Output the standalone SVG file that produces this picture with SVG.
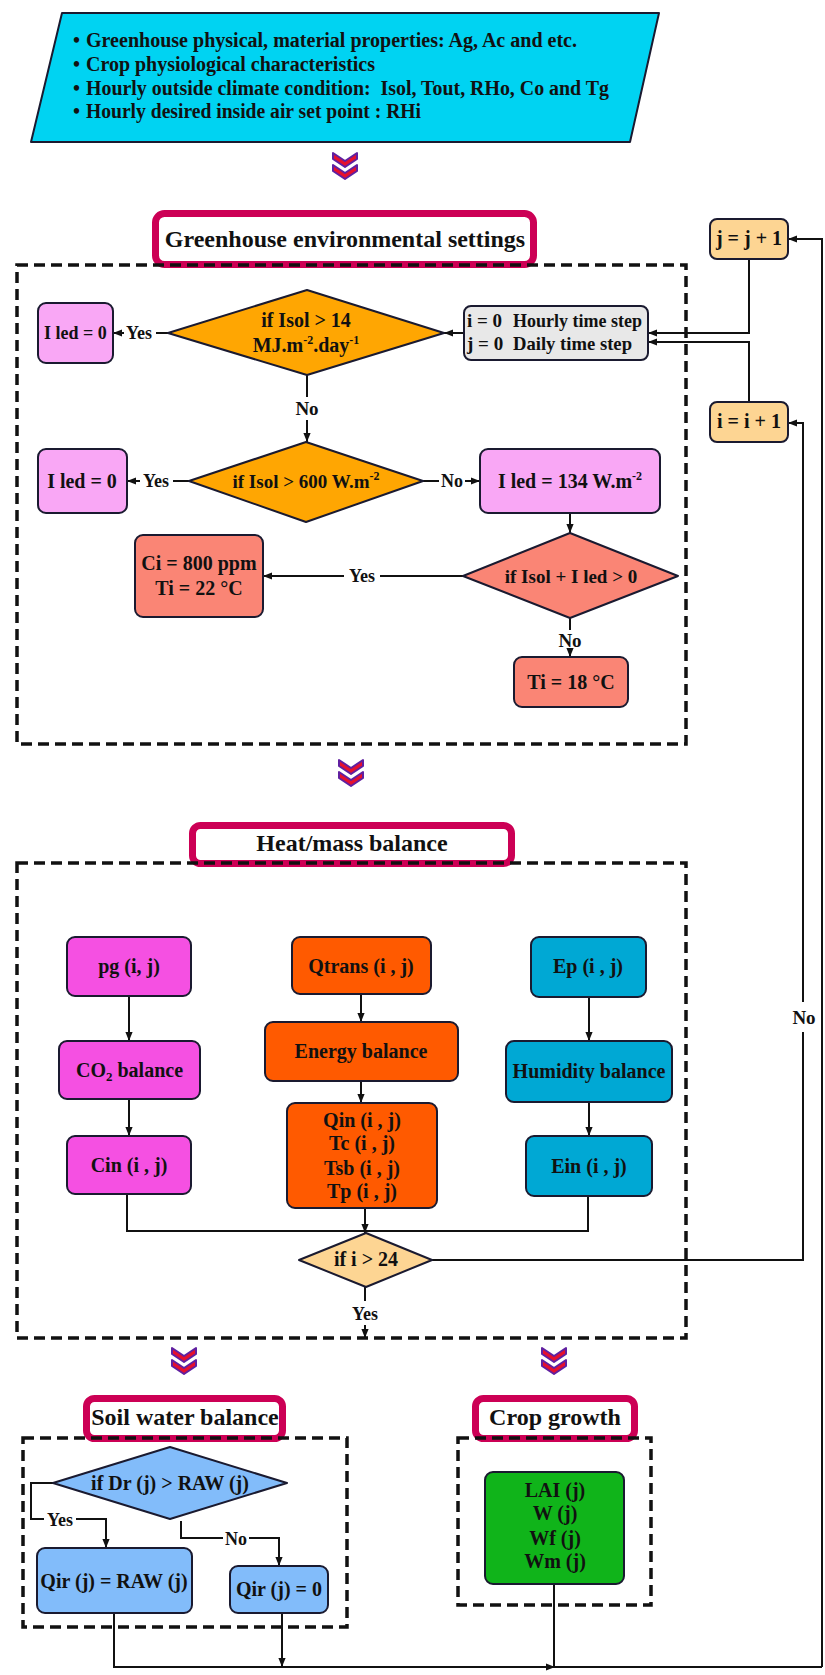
<svg xmlns="http://www.w3.org/2000/svg" xmlns:xlink="http://www.w3.org/1999/xlink" width="825" height="1675" viewBox="0 0 825 1675">
<style>
text{font-family:"Liberation Serif","Times New Roman",serif;font-weight:bold;fill:#111;}
.c{text-anchor:middle;}
.t20{font-size:20px;}
.t19{font-size:19px;}
.t18{font-size:18px;}
.title{font-size:24px;text-anchor:middle;}
.nd{stroke:#1a1a30;stroke-width:2;stroke-linejoin:round;}
.cyan{fill:#00d3f2;}
.orange{fill:#ffa602;}
.pink{fill:#f9a7f5;}
.salmon{fill:#fa8575;}
.grey{fill:#e8e8e8;}
.lo{fill:#fdd593;}
.mag{fill:#f550e2;}
.ored{fill:#ff5a00;}
.teal{fill:#00a8d4;}
.lb{fill:#82bcfa;}
.green{fill:#10b41a;}
.tbox{fill:#fff;stroke:#cc0055;stroke-width:7;}
.dash{fill:none;stroke:#111;stroke-width:3.5;stroke-dasharray:11 6;}
.ln{fill:none;stroke:#111;stroke-width:2;}
.ar{marker-end:url(#ah);}
.chev{fill:#e5102e;stroke:#6020a0;stroke-width:2;stroke-linejoin:round;}
</style>
<defs>
<marker id="ah" viewBox="0 0 10 10" refX="10" refY="5" markerWidth="9" markerHeight="9" orient="auto" markerUnits="userSpaceOnUse">
<path d="M0,1 L10,5 L0,9 z" fill="#111"/>
</marker>
<g id="chev">
<path class="chev" d="M-12,0 L0,8 L12,0 L12,6 L0,14 L-12,6 Z"/>
<path class="chev" d="M-12,12 L0,20 L12,12 L12,18 L0,26 L-12,18 Z"/>
</g>
</defs>
<rect width="825" height="1675" fill="#fff"/>

<g id="chevrons">
<use xlink:href="#chev" x="345" y="153"/>
<use xlink:href="#chev" x="351" y="760"/>
<use xlink:href="#chev" x="184" y="1348"/>
<use xlink:href="#chev" x="554" y="1348"/>
</g>

<g id="frames">
<g id="title-env"><rect class="tbox" x="155.5" y="213.5" width="378" height="51" rx="9"/><text class="title" x="345" y="247">Greenhouse environmental settings</text></g>
<g id="title-heat"><rect class="tbox" x="192.5" y="825.5" width="319" height="38" rx="8"/><text class="title" x="352" y="851">Heat/mass balance</text></g>
<g id="title-soil"><rect class="tbox" x="86.5" y="1398.5" width="196" height="40" rx="8"/><text class="title" x="185" y="1425" font-size="23">Soil water balance</text></g>
<g id="title-crop"><rect class="tbox" x="475.5" y="1398.5" width="159" height="40" rx="8"/><text class="title" x="555" y="1425" font-size="23">Crop growth</text></g>
<rect class="dash" x="17" y="265" width="669" height="479"/>
<rect class="dash" x="17" y="863" width="669" height="475"/>
<rect class="dash" x="23" y="1438" width="324" height="189"/>
<rect class="dash" x="458" y="1438" width="193" height="167"/>
</g>

<g id="connectors">
<path class="ln" d="M168,333 H156"/><text class="t18 c" x="139" y="339">Yes</text><path class="ln ar" d="M124,333 H113"/>
<path class="ln ar" d="M464,333 H444"/>
<path class="ln" d="M307,375 V397"/><text class="t19 c" x="307" y="415">No</text><path class="ln ar" d="M307,420 V442"/>
<path class="ln" d="M189,481 H173"/><text class="t18 c" x="156" y="487">Yes</text><path class="ln ar" d="M140,481 H127"/>
<path class="ln" d="M423,481 H439"/><text class="t18 c" x="452" y="487">No</text><path class="ln ar" d="M465,481 H480"/>
<path class="ln ar" d="M570,513 V533"/>
<path class="ln" d="M463,576 H380"/><text class="t18 c" x="362" y="582">Yes</text><path class="ln ar" d="M344,576 H263"/>
<path class="ln" d="M570,618 V630"/><text class="t19 c" x="570" y="647">No</text><path class="ln ar" d="M570,650 V657"/>
<path class="ln ar" d="M749,259 V333 H648"/>
<path class="ln ar" d="M749,402 V342 H648"/>
<path class="ln ar" d="M822,1667 V239 H788"/>
<path class="ln ar" d="M432,1260 H803 V423 H788"/>
<rect x="794" y="1002" width="20" height="30" fill="#fff"/><text class="t19 c" x="804" y="1024">No</text>
<path class="ln ar" d="M129,996 V1041"/>
<path class="ln ar" d="M129,1099 V1136"/>
<path class="ln ar" d="M361,994 V1022"/>
<path class="ln ar" d="M361,1081 V1103"/>
<path class="ln ar" d="M589,997 V1041"/>
<path class="ln ar" d="M589,1102 V1136"/>
<path class="ln" d="M127,1194 V1231 H588 V1196"/>
<path class="ln ar" d="M365,1208 V1233"/>
<path class="ln" d="M365,1287 V1301"/><text class="t18 c" x="365" y="1320">Yes</text><path class="ln ar" d="M365,1325 V1338"/>
<path class="ln" d="M53,1483 H31 V1519 H44"/><text class="t18 c" x="60" y="1526">Yes</text><path class="ln ar" d="M76,1519 H106 V1548"/>
<path class="ln" d="M181,1521 V1538 H223"/><text class="t18 c" x="236" y="1545">No</text><path class="ln ar" d="M249,1538 H279 V1566"/>
<path class="ln ar" d="M114,1613 V1667 H555"/>
<path class="ln" d="M555,1667 H822"/>
<path class="ln ar" d="M282,1613 V1667"/>
<path class="ln" d="M554,1584 V1667"/>
</g>

<g id="n-input">
<polygon class="nd cyan" points="62,13 659,13 630,142 31,142"/>
<text class="t20" x="73" y="47">• <tspan x="86" textLength="491" lengthAdjust="spacingAndGlyphs">Greenhouse physical, material properties: Ag, Ac and etc.</tspan></text>
<text class="t20" x="73" y="71">• <tspan x="86" textLength="289" lengthAdjust="spacingAndGlyphs">Crop physiological characteristics</tspan></text>
<text class="t20" x="73" y="95" xml:space="preserve">• <tspan x="86" textLength="523" lengthAdjust="spacingAndGlyphs">Hourly outside climate condition:  Isol, Tout, RHo, Co and Tg</tspan></text>
<text class="t20" x="73" y="118">• <tspan x="86" textLength="335" lengthAdjust="spacingAndGlyphs">Hourly desired inside air set point : RHi</tspan></text>
</g>

<g id="n-led0a"><rect class="nd pink" x="38" y="303" width="75" height="60" rx="8"/><text class="t18 c" x="75.5" y="339">I led = 0</text></g>
<g id="n-d1"><polygon class="nd orange" points="168,333 307,290 444,333 307,375"/><text class="t20 c" x="306" y="327">if Isol &gt; 14</text><text class="t20 c" x="306" y="352">MJ.m<tspan dy="-8" font-size="12">-2</tspan><tspan dy="8">.day</tspan><tspan dy="-8" font-size="12">-1</tspan></text></g>
<g id="n-init"><rect class="nd grey" x="464" y="306" width="184" height="54" rx="7"/><text class="t19" x="467" y="327">i = 0</text><text class="t19" x="513" y="327" textLength="129" lengthAdjust="spacingAndGlyphs">Hourly time step</text><text class="t19" x="467" y="350">j = 0</text><text class="t19" x="513" y="350" textLength="119" lengthAdjust="spacingAndGlyphs">Daily time step</text></g>
<g id="n-jinc"><rect class="nd lo" x="710" y="219" width="78" height="40" rx="7"/><text class="t20 c" x="749" y="245">j = j + 1</text></g>
<g id="n-iinc"><rect class="nd lo" x="710" y="402" width="78" height="40" rx="7"/><text class="t20 c" x="749" y="428">i = i + 1</text></g>
<g id="n-d2"><polygon class="nd orange" points="189,481 306,442 423,481 306,522"/><text class="t19 c" x="306" y="488">if Isol &gt; 600 W.m<tspan dy="-8" font-size="12">-2</tspan></text></g>
<g id="n-led0b"><rect class="nd pink" x="38" y="449" width="89" height="64" rx="8"/><text class="t20 c" x="82" y="488">I led = 0</text></g>
<g id="n-led134"><rect class="nd pink" x="480" y="449" width="180" height="64" rx="8"/><text class="t20 c" x="570" y="488">I led = 134 W.m<tspan dy="-8" font-size="12">-2</tspan></text></g>
<g id="n-d3"><polygon class="nd salmon" points="463,576 570,533 678,576 570,618"/><text class="t19 c" x="571" y="583">if Isol + I led &gt; 0</text></g>
<g id="n-ci"><rect class="nd salmon" x="135" y="535" width="128" height="82" rx="8"/><text class="t20 c" x="199" y="570">Ci = 800 ppm</text><text class="t20 c" x="199" y="595">Ti = 22 °C</text></g>
<g id="n-ti18"><rect class="nd salmon" x="514" y="657" width="114" height="50" rx="8"/><text class="t20 c" x="571" y="689">Ti = 18 °C</text></g>

<g id="n-pg"><rect class="nd mag" x="67" y="937" width="124" height="59" rx="8"/><text class="t20 c" x="129" y="973">pg (i, j)</text></g>
<g id="n-co2"><rect class="nd mag" x="59" y="1041" width="141" height="58" rx="8"/><text class="t20 c" x="129.5" y="1077">CO<tspan dy="4" font-size="13">2</tspan><tspan dy="-4"> balance</tspan></text></g>
<g id="n-cin"><rect class="nd mag" x="67" y="1136" width="124" height="58" rx="8"/><text class="t20 c" x="129" y="1172">Cin (i , j)</text></g>
<g id="n-qtrans"><rect class="nd ored" x="292" y="937" width="139" height="57" rx="8"/><text class="t20 c" x="361" y="973">Qtrans (i , j)</text></g>
<g id="n-energy"><rect class="nd ored" x="265" y="1022" width="193" height="59" rx="8"/><text class="t20 c" x="361" y="1058">Energy balance</text></g>
<g id="n-qin"><rect class="nd ored" x="287" y="1103" width="150" height="105" rx="8"/><text class="t20 c" x="362" y="1127">Qin (i , j)</text><text class="t20 c" x="362" y="1150">Tc (i , j)</text><text class="t20 c" x="362" y="1175">Tsb (i , j)</text><text class="t20 c" x="362" y="1198">Tp (i , j)</text></g>
<g id="n-ep"><rect class="nd teal" x="531" y="937" width="115" height="60" rx="8"/><text class="t20 c" x="588" y="973">Ep (i , j)</text></g>
<g id="n-hum"><rect class="nd teal" x="506" y="1041" width="166" height="61" rx="8"/><text class="t20 c" x="589" y="1078">Humidity balance</text></g>
<g id="n-ein"><rect class="nd teal" x="526" y="1136" width="126" height="60" rx="8"/><text class="t20 c" x="589" y="1173">Ein (i , j)</text></g>
<g id="n-d4"><polygon class="nd lo" points="299,1260 366,1233 432,1260 366,1287"/><text class="t20 c" x="366" y="1266">if i &gt; 24</text></g>

<g id="n-d5"><polygon class="nd lb" points="53,1483 170,1447 287,1483 170,1519"/><text class="t20 c" x="170" y="1490">if Dr (j) &gt; RAW (j)</text></g>
<g id="n-qirraw"><rect class="nd lb" x="37" y="1548" width="155" height="65" rx="8"/><text class="t20 c" x="114" y="1588">Qir (j) = RAW (j)</text></g>
<g id="n-qir0"><rect class="nd lb" x="230" y="1566" width="98" height="47" rx="8"/><text class="t20 c" x="279" y="1596">Qir (j) = 0</text></g>
<g id="n-crop"><rect class="nd green" x="485" y="1472" width="139" height="112" rx="8"/><text class="t20 c" x="555" y="1497">LAI (j)</text><text class="t20 c" x="555" y="1520">W (j)</text><text class="t20 c" x="555" y="1545">Wf (j)</text><text class="t20 c" x="555" y="1568">Wm (j)</text></g>
</svg>
